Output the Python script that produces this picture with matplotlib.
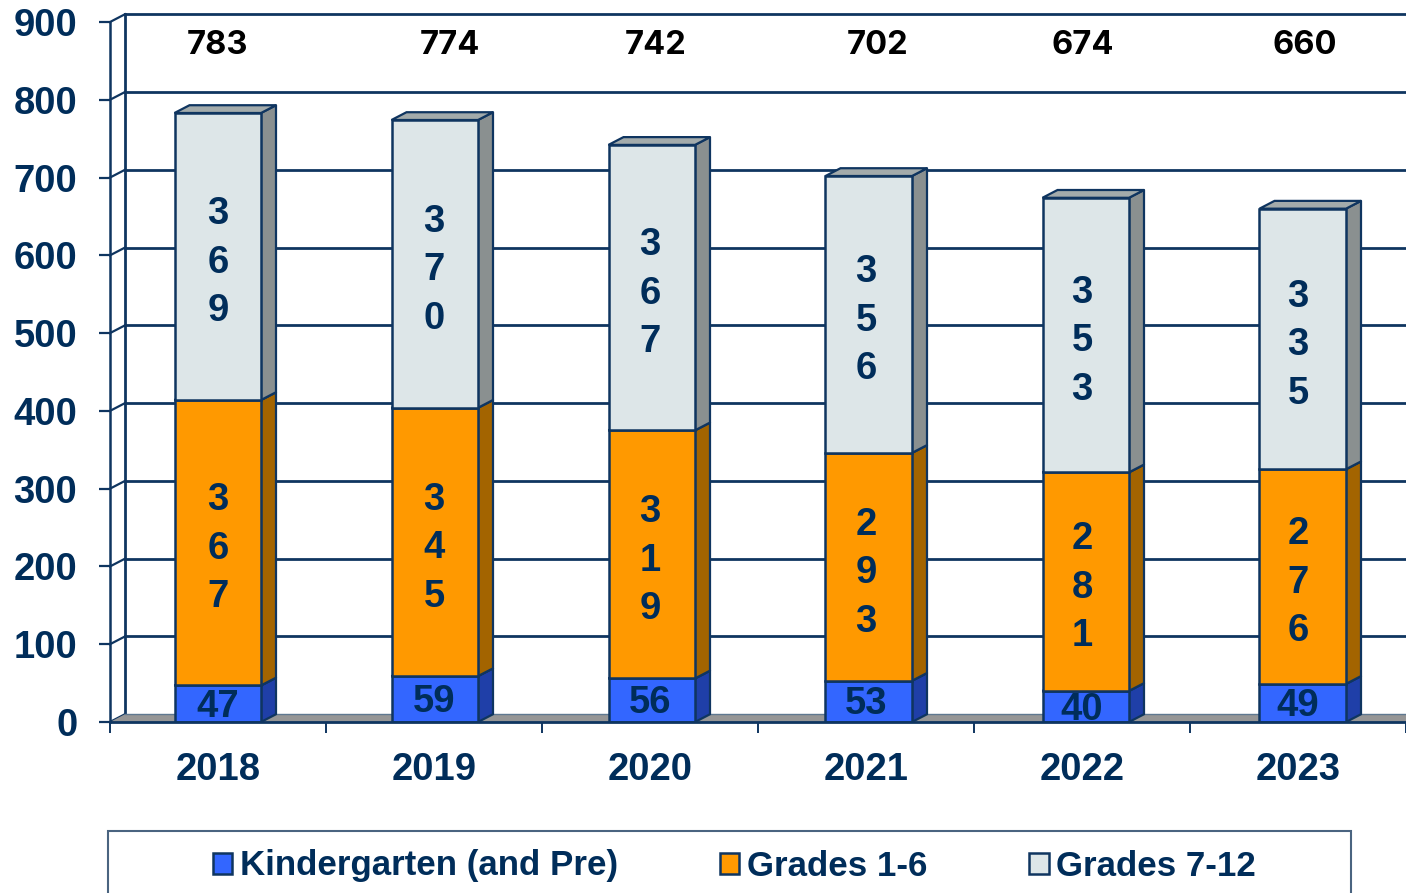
import matplotlib
matplotlib.use("Agg")
import matplotlib.pyplot as plt
from matplotlib.patches import Patch, Rectangle

years = ['2018', '2019', '2020', '2021', '2022', '2023']
kinder = [47, 59, 56, 53, 40, 49]
grades_1_6 = [367, 345, 319, 293, 281, 276]
grades_7_12 = [369, 370, 367, 356, 353, 335]
totals = [783, 774, 742, 702, 674, 660]
# os totais estao soltos no topo, cada um num x proprio (em unidades de categoria)
total_x = [0.50, 1.575, 2.525, 3.555, 4.505, 5.53]
y_ticks = [0, 100, 200, 300, 400, 500, 600, 700, 800, 900]

navy = '#0F3560'
text_color = '#002D5A'
front_colors = ['#3366FF', '#FF9900', '#DDE6E8']
side_colors = ['#1F3FA8', '#A36400', '#8A9090']
top_color = '#A3ABAB'
floor_color = '#969696'

W, H = 1406, 893
DX = 15 / 216   # profundidade 3d em categorias
DY = 10         # profundidade 3d em unidades do eixo y
BAR_W = 86.5 / 216
BAR_START = 64.5 / 216   # as barras andam um pouco mais que as categorias
BAR_STEP = 217 / 216

plt.rcParams['font.family'] = ['Liberation Sans', 'DejaVu Sans']
plt.rcParams['font.weight'] = 'bold'

fig = plt.figure(figsize=(W / 100, H / 100), dpi=100)
ax = fig.add_axes([110 / W, (H - 722) / H, 1296 / W, 707 / H])
ax.set_xlim(0, 6)
ax.set_ylim(0, 909)

# paredes e grade
ax.plot([DX, DX], [DY, 900 + DY], color=navy, lw=2, zorder=1, clip_on=False)
for t in y_ticks:
    ax.plot([0, DX], [t, t + DY], color=navy, lw=1.6, zorder=1, clip_on=False)
    if t > 0:
        ax.plot([DX, 6], [t + DY, t + DY], color=navy, lw=2, zorder=1, clip_on=False)

# chao
ax.fill([0, DX, 6, 6], [0, DY, DY, 0], facecolor=floor_color, edgecolor='none', zorder=2)
ax.plot([DX, 6], [DY, DY], color='#5F7890', lw=1, zorder=2)


def barra_3d(x0, bottom, value, front, side, z):
    x1 = x0 + BAR_W
    top = bottom + value
    ax.fill([x1, x1 + DX, x1 + DX, x1], [bottom, bottom + DY, top + DY, top],
            facecolor=side, edgecolor=navy, lw=1.6, zorder=z, joinstyle='round')
    ax.fill([x0, x0 + DX, x1 + DX, x1], [top, top + DY, top + DY, top],
            facecolor=top_color, edgecolor=navy, lw=1.6, zorder=z)
    ax.fill([x0, x1, x1, x0], [bottom, bottom, top, top],
            facecolor=front, edgecolor=navy, lw=1.8, zorder=z + 0.1)


for i, year in enumerate(years):
    x0 = BAR_START + i * BAR_STEP
    bottom = 0
    for j, serie in enumerate([kinder, grades_1_6, grades_7_12]):
        v = serie[i]
        barra_3d(x0, bottom, v, front_colors[j], side_colors[j], 3 + j)
        # valores de 3 digitos ficam empilhados na vertical
        label = str(v) if v < 100 else '\n'.join(str(v))
        shift = 4 if v < 100 else 8
        ax.text(i + 0.5, bottom + v / 2 - shift, label, ha='center', va='center', color=text_color,
                fontsize=27.5, linespacing=1.445, zorder=10)
        bottom += v

for x, total in zip(total_x, totals):
    ax.text(x, 870, str(total), ha='center', va='center', color='black', fontsize=23.5,
            family=['Inter', 'DejaVu Sans'], zorder=10)

ax.spines['top'].set_visible(False)
ax.spines['right'].set_visible(False)
ax.spines['left'].set_color(navy)
ax.spines['left'].set_linewidth(1.8)
ax.spines['left'].set_bounds(0, 900)
ax.spines['bottom'].set_color(navy)
ax.spines['bottom'].set_linewidth(2)
ax.spines['bottom'].set_zorder(9)

ax.set_yticks(y_ticks)
ax.set_yticklabels([str(t) for t in y_ticks], fontsize=27.5, color=text_color)
ax.tick_params(axis='y', length=8, width=1.6, color=navy, pad=15.5)
ax.set_xticks(range(7))
ax.set_xticklabels([])
ax.set_xticks([i + 0.5 for i in range(6)], labels=years, minor=True)
ax.tick_params(axis='x', which='major', length=8, width=1.4, color=navy)
ax.tick_params(axis='x', which='minor', length=0, pad=21.5, labelsize=27.5, labelcolor=text_color)

# caixa da legenda, cortada na borda de baixo
fig.add_artist(Rectangle((108 / W, -0.05), 1243 / W, 0.05 + (H - 831) / H, transform=fig.transFigure,
                         facecolor='white', edgecolor='#4A6480', lw=1.5))
handles = [Patch(facecolor=c, edgecolor=navy, lw=1.8) for c in front_colors]
leg = fig.legend(handles, ['Kindergarten (and Pre)', 'Grades 1-6', 'Grades 7-12'], loc='center left',
                 bbox_to_anchor=(213 / W, (H - 866) / H), ncol=3, frameon=False, borderpad=0, borderaxespad=0,
                 fontsize=25.1, handlelength=0.55, handleheight=0.55, handletextpad=0.22, columnspacing=2.93,
                 labelcolor=text_color)

fig.savefig('out.png', dpi=100)
